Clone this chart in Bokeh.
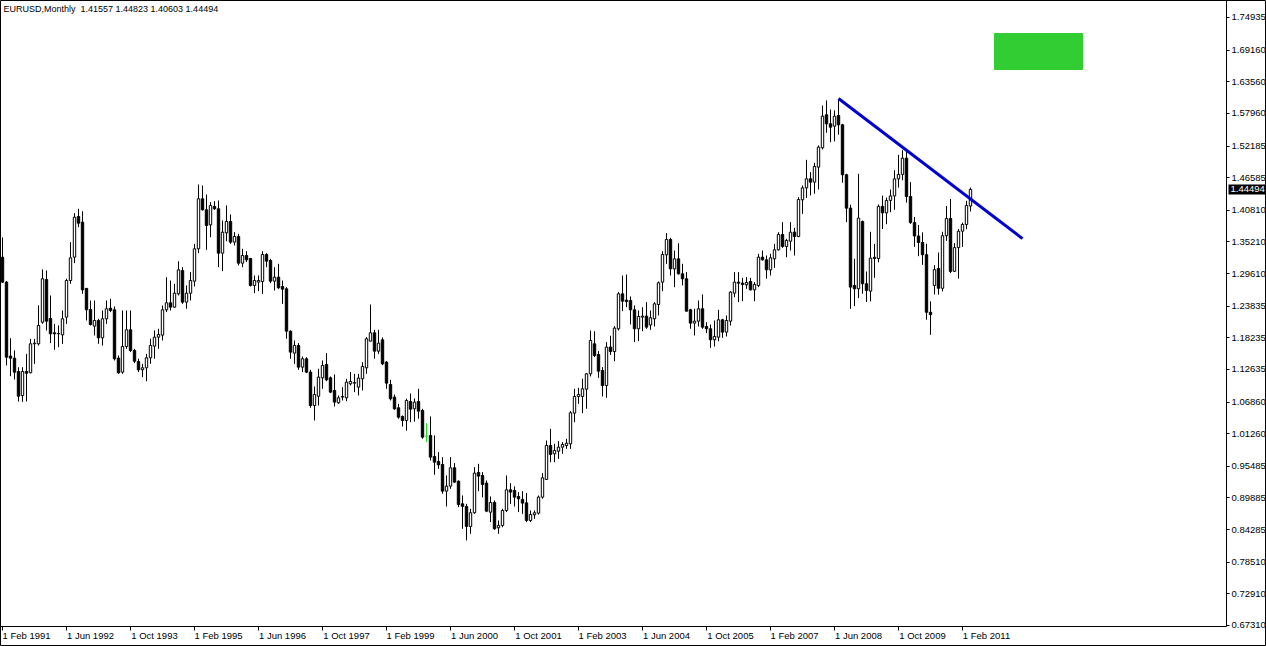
import pandas as pd
from bokeh.plotting import figure
from bokeh.models import (FixedTicker, Label, Range1d, ColumnDataSource, PrintfTickFormatter,
                          LinearAxis)
from bokeh.embed import file_html
from bokeh.resources import INLINE

# ---------------- data (EURUSD monthly, Feb 1991 .. Apr 2011) ----------------
opens = [1.3250, 1.2809, 1.1500, 1.1463, 1.1227, 1.0802, 1.1227, 1.1204, 1.1717, 1.1717,
         1.2100, 1.2856, 1.2165, 1.1912, 1.1894, 1.1876, 1.2189, 1.2838, 1.3251, 1.3971,
         1.3871, 1.2697, 1.2325, 1.2030, 1.2130, 1.1823, 1.2160, 1.2348, 1.2319, 1.1463,
         1.1216, 1.1670, 1.1965, 1.1599, 1.1404, 1.1257, 1.1292, 1.1469, 1.1676, 1.1835,
         1.1871, 1.2319, 1.2443, 1.2366, 1.2602, 1.3015, 1.2455, 1.2614, 1.2826, 1.3399,
         1.4284, 1.4089, 1.3823, 1.4148, 1.4107, 1.3322, 1.3682, 1.3882, 1.3517, 1.3617,
         1.3145, 1.3281, 1.3227, 1.2750, 1.2809, 1.2820, 1.3298, 1.3192, 1.2826, 1.2897,
         1.2732, 1.2690, 1.1941, 1.1552, 1.1688, 1.1304, 1.1452, 1.1216, 1.0625, 1.0790,
         1.1115, 1.1351, 1.1115, 1.0891, 1.0673, 1.0773, 1.0761, 1.1009, 1.1021, 1.0950,
         1.1098, 1.1292, 1.1764, 1.1912, 1.1587, 1.1788, 1.1393, 1.0997, 1.0773, 1.0584,
         1.0431, 1.0360, 1.0696, 1.0567, 1.0696, 1.0537, 1.0083, 1.0095, 0.9723, 0.9634,
         0.9581, 0.9109, 0.9198, 0.9522, 0.9286, 0.8885, 0.8838, 0.8484, 0.8726, 0.9440,
         0.9387, 0.9251, 0.8737, 0.8909, 0.8461, 0.8502, 0.8767, 0.9133, 0.9121, 0.9015,
         0.8962, 0.8903, 0.8590, 0.8690, 0.8720, 0.9003, 0.9316, 0.9918, 0.9770, 0.9817,
         0.9888, 0.9917, 0.9947, 1.0490, 1.0785, 1.0785, 1.0914, 1.1186, 1.1717, 1.1528,
         1.1245, 1.0979, 1.1660, 1.1580, 1.1983, 1.2602, 1.2490, 1.2484, 1.2319, 1.1983,
         1.2189, 1.2207, 1.2050, 1.2160, 1.2413, 1.2809, 1.3292, 1.3564, 1.3044, 1.3222,
         1.2956, 1.2868, 1.2319, 1.2083, 1.2118, 1.2337, 1.2024, 1.1983, 1.1788, 1.1835,
         1.2142, 1.1924, 1.2118, 1.2614, 1.2809, 1.2791, 1.2761, 1.2820, 1.2673, 1.2750,
         1.3251, 1.3204, 1.3027, 1.3222, 1.3381, 1.3652, 1.3440, 1.3534, 1.3693, 1.3617,
         1.4266, 1.4478, 1.4638, 1.4579, 1.4845, 1.5187, 1.5771, 1.5612, 1.5570, 1.5759,
         1.5594, 1.4709, 1.4119, 1.2750, 1.2691, 1.3883, 1.2780, 1.2650, 1.3248, 1.3228,
         1.4150, 1.4035, 1.4256, 1.4335, 1.4637, 1.4716, 1.5003, 1.4325, 1.3863, 1.3626,
         1.3510, 1.3295, 1.2275, 1.2750, 1.3050, 1.2700, 1.3630, 1.3935, 1.3000, 1.3420,
         1.3711, 1.3830, 1.41557]
highs = [1.3600, 1.2830, 1.1816, 1.1600, 1.1303, 1.1303, 1.1540, 1.1805, 1.1805, 1.2400,
         1.3034, 1.3015, 1.2573, 1.2071, 1.2042, 1.2307, 1.2868, 1.3517, 1.4030, 1.4107,
         1.4065, 1.2708, 1.2484, 1.2484, 1.2160, 1.2307, 1.2484, 1.2514, 1.2378, 1.1510,
         1.2307, 1.2307, 1.2307, 1.1628, 1.1452, 1.1363, 1.1540, 1.1806, 1.1953, 1.1983,
         1.2395, 1.2897, 1.2838, 1.2779, 1.3180, 1.3074, 1.2750, 1.2985, 1.3487, 1.4537,
         1.4520, 1.4360, 1.4225, 1.4242, 1.4254, 1.3900, 1.4166, 1.4006, 1.3694, 1.3664,
         1.3399, 1.3357, 1.3239, 1.2927, 1.2927, 1.3357, 1.3322, 1.3222, 1.3074, 1.3133,
         1.2838, 1.2720, 1.1953, 1.1776, 1.1729, 1.1493, 1.1481, 1.1257, 1.0962, 1.1275,
         1.1422, 1.1552, 1.1139, 1.1174, 1.0803, 1.0950, 1.1098, 1.1216, 1.1186, 1.1186,
         1.1393, 1.1835, 1.2413, 1.1965, 1.1965, 1.1830, 1.1410, 1.1080, 1.0820, 1.0655,
         1.0449, 1.0744, 1.0838, 1.0750, 1.0920, 1.0567, 1.0313, 1.0431, 1.0095, 0.9799,
         0.9711, 0.9387, 0.9711, 0.9605, 0.9298, 0.9033, 0.8885, 0.8796, 0.9534, 0.9593,
         0.9446, 0.9298, 0.9015, 0.8944, 0.8590, 0.8797, 0.9386, 0.9251, 0.9192, 0.9092,
         0.9109, 0.9074, 0.8767, 0.8767, 0.9033, 0.9428, 1.0006, 1.0212, 0.9947, 0.9994,
         0.9976, 1.0035, 1.0525, 1.0921, 1.0938, 1.1098, 1.1198, 1.1953, 1.1941, 1.1587,
         1.1304, 1.1747, 1.1860, 1.2030, 1.2632, 1.2926, 1.2944, 1.2555, 1.2396, 1.2307,
         1.2366, 1.2455, 1.2307, 1.2455, 1.2820, 1.3357, 1.3676, 1.3593, 1.3369, 1.3499,
         1.3133, 1.2986, 1.2337, 1.2337, 1.2484, 1.2590, 1.2100, 1.2059, 1.2130, 1.2319,
         1.2160, 1.2218, 1.2649, 1.2986, 1.2986, 1.2885, 1.2897, 1.2885, 1.2809, 1.3310,
         1.3369, 1.3281, 1.3310, 1.3487, 1.3693, 1.3871, 1.3575, 1.3871, 1.3770, 1.4313,
         1.4520, 1.4974, 1.4756, 1.4921, 1.5228, 1.5936, 1.6025, 1.5865, 1.5848, 1.6038,
         1.5611, 1.4727, 1.4178, 1.3222, 1.4727, 1.3900, 1.2998, 1.3700, 1.3487, 1.4185,
         1.4340, 1.4305, 1.4447, 1.4790, 1.5062, 1.5144, 1.5144, 1.4579, 1.3963, 1.3821,
         1.3690, 1.3490, 1.2470, 1.3110, 1.3333, 1.3700, 1.4157, 1.4282, 1.3500, 1.3750,
         1.3862, 1.4248, 1.44823]
lows = [1.2797, 1.1334, 1.1144, 1.1085, 1.0696, 1.0690, 1.0696, 1.1197, 1.1363, 1.1687,
        1.2071, 1.1953, 1.1729, 1.1611, 1.1658, 1.1717, 1.2071, 1.2779, 1.3145, 1.3782,
        1.2602, 1.2130, 1.2041, 1.1865, 1.1717, 1.1687, 1.2071, 1.2278, 1.1422, 1.1186,
        1.1186, 1.1628, 1.1570, 1.1375, 1.1216, 1.1127, 1.1056, 1.1363, 1.1452, 1.1628,
        1.1776, 1.2278, 1.2307, 1.2354, 1.2573, 1.2425, 1.2337, 1.2484, 1.2732, 1.3322,
        1.4077, 1.3381, 1.3605, 1.4089, 1.3074, 1.3003, 1.3534, 1.3487, 1.3458, 1.3104,
        1.3074, 1.3163, 1.2732, 1.2614, 1.2649, 1.2602, 1.3074, 1.2791, 1.2661, 1.2690,
        1.2425, 1.1806, 1.1452, 1.1363, 1.1257, 1.1216, 1.1198, 1.0584, 1.0360, 1.0625,
        1.0920, 1.1056, 1.0844, 1.0608, 1.0655, 1.0714, 1.0702, 1.0980, 1.0862, 1.0803,
        1.0891, 1.1186, 1.1764, 1.1452, 1.1540, 1.1340, 1.0920, 1.0714, 1.0549, 1.0390,
        1.0254, 1.0180, 1.0330, 1.0340, 1.0390, 1.0035, 0.9977, 0.9652, 0.9398, 0.9504,
        0.9062, 0.8838, 0.9150, 0.9251, 0.8826, 0.8443, 0.8236, 0.8354, 0.8708, 0.9109,
        0.8999, 0.8737, 0.8561, 0.8425, 0.8354, 0.8470, 0.8738, 0.8885, 0.8838, 0.8738,
        0.8708, 0.8561, 0.8561, 0.8620, 0.8696, 0.8974, 0.9310, 0.9622, 0.9622, 0.9681,
        0.9770, 0.9858, 0.9858, 1.0330, 1.0655, 1.0490, 1.0567, 1.1139, 1.1481, 1.1115,
        1.0785, 1.0761, 1.1520, 1.1410, 1.1953, 1.2295, 1.2366, 1.2059, 1.1747, 1.1764,
        1.1941, 1.1983, 1.1965, 1.2024, 1.2218, 1.2649, 1.3133, 1.2926, 1.2720, 1.2944,
        1.2750, 1.2289, 1.1983, 1.1864, 1.2024, 1.1983, 1.1906, 1.1646, 1.1670, 1.1764,
        1.1823, 1.1847, 1.2041, 1.2543, 1.2455, 1.2472, 1.2690, 1.2661, 1.2472, 1.2720,
        1.3192, 1.2868, 1.2926, 1.3062, 1.3369, 1.3416, 1.3251, 1.3369, 1.3280, 1.3605,
        1.4018, 1.4300, 1.4343, 1.4373, 1.4449, 1.5157, 1.5452, 1.5287, 1.5299, 1.5417,
        1.4567, 1.3871, 1.2337, 1.2384, 1.2526, 1.2603, 1.2457, 1.2467, 1.2886, 1.3161,
        1.3749, 1.3834, 1.4047, 1.4090, 1.4483, 1.4613, 1.4218, 1.3840, 1.3434, 1.3268,
        1.3115, 1.2144, 1.1876, 1.2590, 1.2588, 1.2645, 1.3540, 1.2969, 1.2990, 1.2871,
        1.3432, 1.3747, 1.40603]
closes = [1.2809, 1.1481, 1.1463, 1.1215, 1.0790, 1.1227, 1.1197, 1.1717, 1.1729, 1.2042,
          1.2868, 1.2118, 1.1894, 1.1894, 1.1900, 1.2160, 1.2838, 1.3239, 1.3959, 1.3853,
          1.2673, 1.2319, 1.2059, 1.2130, 1.1823, 1.2160, 1.2337, 1.2307, 1.1452, 1.1204,
          1.1670, 1.1965, 1.1599, 1.1410, 1.1257, 1.1292, 1.1469, 1.1688, 1.1835, 1.1882,
          1.2319, 1.2443, 1.2366, 1.2614, 1.3027, 1.2455, 1.2614, 1.2838, 1.3399, 1.4284,
          1.4089, 1.3812, 1.4165, 1.4107, 1.3322, 1.3694, 1.3882, 1.3517, 1.3617, 1.3145,
          1.3281, 1.3204, 1.2750, 1.2838, 1.2838, 1.3298, 1.3180, 1.2826, 1.2897, 1.2708,
          1.2685, 1.1941, 1.1570, 1.1688, 1.1304, 1.1452, 1.1216, 1.0625, 1.0820, 1.1127,
          1.1334, 1.1080, 1.0862, 1.0685, 1.0761, 1.0785, 1.1039, 1.1050, 1.1030, 1.1110,
          1.1316, 1.1806, 1.1912, 1.1587, 1.1729, 1.1363, 1.1021, 1.0744, 1.0566, 1.0419,
          1.0360, 1.0714, 1.0560, 1.0684, 1.0525, 1.0065, 1.0083, 0.9711, 0.9622, 0.9575,
          0.9109, 0.9198, 0.9522, 0.9269, 0.8873, 0.8838, 0.8484, 0.8726, 0.9428, 0.9375,
          0.9227, 0.8755, 0.8909, 0.8443, 0.8502, 0.8767, 0.9133, 0.9092, 0.9003, 0.8974,
          0.8897, 0.8590, 0.8696, 0.8726, 0.9003, 0.9345, 0.9918, 0.9758, 0.9829, 0.9888,
          0.9935, 0.9959, 1.0496, 1.0785, 1.0820, 1.0920, 1.1186, 1.1776, 1.1511, 1.1233,
          1.0979, 1.1658, 1.1580, 1.1995, 1.2602, 1.2472, 1.2465, 1.2319, 1.1983, 1.2201,
          1.2207, 1.2012, 1.2177, 1.2425, 1.2797, 1.3298, 1.3564, 1.3044, 1.3222, 1.2956,
          1.2868, 1.2295, 1.2083, 1.2118, 1.2337, 1.2012, 1.1983, 1.1788, 1.1847, 1.2142,
          1.1924, 1.2130, 1.2632, 1.2809, 1.2791, 1.2767, 1.2803, 1.2673, 1.2767, 1.3251,
          1.3204, 1.3027, 1.3239, 1.3381, 1.3652, 1.3440, 1.3546, 1.3693, 1.3617, 1.4272,
          1.4478, 1.4638, 1.4579, 1.4856, 1.5199, 1.5747, 1.5612, 1.5552, 1.5747, 1.5594,
          1.4709, 1.4119, 1.2721, 1.2691, 1.3942, 1.2780, 1.2662, 1.3234, 1.3228, 1.4150,
          1.4035, 1.4256, 1.4335, 1.4637, 1.4716, 1.5003, 1.4325, 1.3863, 1.3626, 1.3510,
          1.3295, 1.2275, 1.2234, 1.3030, 1.2700, 1.3630, 1.3935, 1.3000, 1.3420, 1.3711,
          1.3830, 1.4165, 1.44494]

first_month = "1991-02-01"
x_tick_labels = ["1 Feb 1991", "1 Jun 1992", "1 Oct 1993", "1 Feb 1995", "1 Jun 1996",
                 "1 Oct 1997", "1 Feb 1999", "1 Jun 2000", "1 Oct 2001", "1 Feb 2003",
                 "1 Jun 2004", "1 Oct 2005", "1 Feb 2007", "1 Jun 2008", "1 Oct 2009",
                 "1 Feb 2011"]
y_ticks = [1.74935, 1.69160, 1.63560, 1.57960, 1.52185, 1.46585, 1.40810, 1.35210,
           1.29610, 1.23835, 1.18235, 1.12635, 1.06860, 1.01260, 0.95485, 0.89885,
           0.84285, 0.78510, 0.72910, 0.67310]

# trend line drawn on the chart (bar dates, prices)
trend_dates = ["2008-07-01", "2012-05-01"]
trend_prices = [1.6060, 1.3580]
# green rectangle object (bar dates, prices)
box_dates = ["2011-10-01", "2013-08-01"]
box_prices = [1.6573, 1.7210]

title_text = "EURUSD,Monthly\u00a0 1.41557 1.44823 1.40603 1.44494"
last_price = "1.44494"

# ---------------- helpers ----------------
t0 = pd.Timestamp(first_month)


def bar_index(d):
    d = pd.Timestamp(d)
    return (d.year - t0.year) * 12 + (d.month - t0.month)


n = len(opens)
xs = list(range(n))
tops = [max(o, c) for o, c in zip(opens, closes)]
bots = [min(o, c) for o, c in zip(opens, closes)]
fills = ["white" if c > o else ("black" if c < o else "#22dd22") for o, c in zip(opens, closes)]
lcols = ["#22dd22" if c == o else "black" for o, c in zip(opens, closes)]

src = ColumnDataSource(dict(x=xs, o=opens, h=highs, l=lows, c=closes,
                            top=tops, bot=bots, fill=fills, lc=lcols))

FONT = "Liberation Sans"
# view window: the chart pane (4 px per bar) plus the price/time scales
x_lo, x_hi = -0.5, 316.0
y_lo, y_hi = 0.63589, 1.77944
axis_x = 306.0        # where the price scale sits (right edge of the chart pane)
axis_y = 0.67129      # where the time scale sits (bottom edge of the chart pane)
LABEL_SHIFT = 6       # date labels start just right of their tick (labels are centred by Bokeh)

p = figure(width=1266, height=646, output_backend="svg", toolbar_location=None,
           x_range=Range1d(x_lo, x_hi), y_range=Range1d(y_lo, y_hi),
           y_axis_location="right", min_border=0,
           min_border_left=0, min_border_right=0, min_border_top=0, min_border_bottom=0)
p.background_fill_color = "white"
p.border_fill_color = "white"
p.outline_line_color = "black"
p.outline_line_width = 1
p.xgrid.visible = False
p.ygrid.visible = False

# candles
p.segment(x0="x", y0="l", x1="x", y1="h", source=src, line_color="lc", line_width=1)
p.vbar(x="x", width=0.6, top="top", bottom="bot", source=src,
       fill_color="fill", line_color="lc", line_width=1)

# trend line and rectangle object
p.line([bar_index(d) for d in trend_dates], trend_prices, line_color="#0000d0", line_width=3)
p.quad(left=[bar_index(box_dates[0])], right=[bar_index(box_dates[1])],
       bottom=[box_prices[0]], top=[box_prices[1]],
       fill_color="#32cd32", line_color="#32cd32")

# time scale: line + tick marks
tick_bars = [bar_index(pd.to_datetime(s)) for s in x_tick_labels]
tx = p.xaxis[0]
tx.fixed_location = axis_y
tx.bounds = (x_lo, axis_x)
tx.ticker = FixedTicker(ticks=tick_bars)
tx.major_label_text_color = None
tx.minor_tick_line_color = None
tx.major_tick_in = 0
tx.major_tick_out = 4
tx.axis_line_color = "black"

# time scale: date texts (left edge at the tick)
lab_ticks = [b + LABEL_SHIFT for b in tick_bars]
lab_axis = LinearAxis(fixed_location=axis_y, bounds=(x_lo, axis_x),
                      ticker=FixedTicker(ticks=lab_ticks),
                      major_label_overrides={t: s for t, s in zip(lab_ticks, x_tick_labels)},
                      axis_line_color=None, major_tick_line_color=None,
                      minor_tick_line_color=None, major_tick_in=0, major_tick_out=0,
                      major_label_standoff=3, major_label_text_font=FONT,
                      major_label_text_font_size="9.5px", major_label_text_color="black")
p.add_layout(lab_axis, "below")

# price scale
ya = p.yaxis[0]
ya.fixed_location = axis_x
ya.bounds = (axis_y, y_hi)
ya.ticker = FixedTicker(ticks=y_ticks)
ya.formatter = PrintfTickFormatter(format="%.5f")
ya.minor_tick_line_color = None
ya.major_tick_in = 0
ya.major_tick_out = 3
ya.major_label_standoff = 2
ya.major_label_text_font = FONT
ya.major_label_text_font_size = "9.5px"
ya.major_label_text_color = "black"
ya.axis_line_color = "black"

# title text and current price marker
p.add_layout(Label(x=x_lo, y=y_hi, x_offset=3, y_offset=-3, text=title_text,
                   text_baseline="top", text_align="left", text_font=FONT,
                   text_font_size="9px", text_color="black"))
p.add_layout(Label(x=axis_x, y=float(last_price), x_offset=2, y_offset=0, text=last_price,
                   text_baseline="middle", text_align="left", text_font=FONT,
                   text_font_size="9.5px", text_color="white",
                   background_fill_color="black", padding=2))

open("out.html", "w").write(file_html(p, INLINE))
